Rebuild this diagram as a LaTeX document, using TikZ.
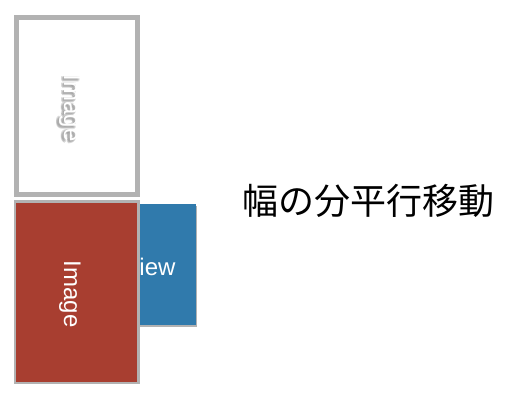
\documentclass[tikz,border=0pt]{standalone}
\usepackage{fontspec}
\setmainfont{Liberation Sans}
\newfontfamily\jpfont{Noto Sans CJK JP}
\definecolor{frame}{RGB}{178,178,178}
\definecolor{redbox}{RGB}{168,62,48}
\definecolor{bluebox}{RGB}{48,122,172}
\definecolor{shade}{RGB}{150,150,150}
\begin{document}
\begin{tikzpicture}[x=1pt,y=-1pt,
  box/.style={rectangle, inner sep=0pt, outer sep=0pt},
  label/.style={font=\fontsize{24}{24}\selectfont, text=white},
  ghost/.style={label, rotate=-90, text=shade, opacity=0.35}]
\useasboundingbox (0,0) rectangle (514,407);
% top placeholder image
\node[box, draw=frame, line width=5pt, fill=white, minimum width=121pt, minimum height=177pt] (top) at (77,106) {};
\foreach \dx/\dy in {-2/1,-1/2,-3/2,-2/3,-1/0,-3/0}
  \node[ghost] at (70+\dx,108+\dy) {Image};
\node[label, rotate=-90, text=white] (toptext) at (70,108) {Image};
% blue view (behind)
\node[box, fill=black!30, minimum width=95pt, minimum height=121pt] (viewsh) at (149.5,266) {};
\node[box, fill=bluebox, minimum width=95pt, minimum height=121pt] (view) at (148.5,264.5) {};
\node[label, anchor=base east] (vt) at (179,275) {View};
% red image
\node[box, fill=frame, minimum width=126pt, minimum height=184pt] (redframe) at (77,292) {};
\node[box, fill=redbox, minimum width=121pt, minimum height=179pt] (red) at (76.5,292) {};
\node[label, rotate=-90] (redtext) at (70,294) {Image};
% caption
\node[font=\jpfont\fontsize{36}{36}\selectfont, text=black] (cap) at (368,201) {幅の分平行移動};
\end{tikzpicture}
\end{document}
